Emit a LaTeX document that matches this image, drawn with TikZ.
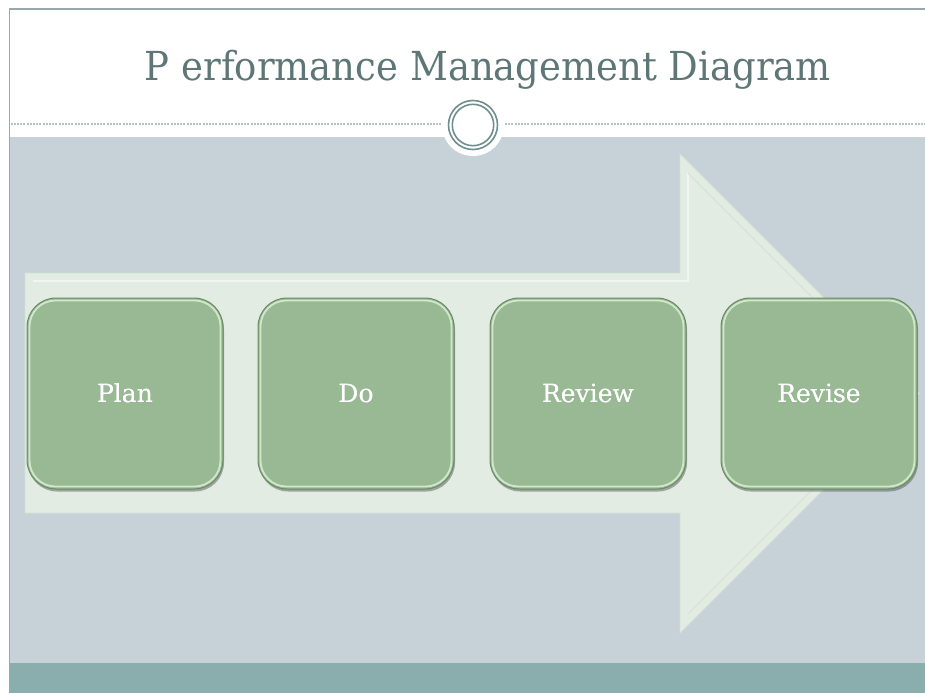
\documentclass[tikz,border=0pt]{standalone}
\usepackage{fontspec}
\setmainfont{DejaVu Serif}
\usetikzlibrary{shadows}
\definecolor{panel}{HTML}{C6D2D8}
\definecolor{band}{HTML}{8AADAD}
\definecolor{frame}{HTML}{98A9AD}
\definecolor{dotc}{HTML}{B2C1C5}
\definecolor{ring}{HTML}{6F8F8F}
\definecolor{titlec}{HTML}{5E7676}
\definecolor{arrowc}{HTML}{E2ECE3}
\definecolor{arrowedge}{HTML}{D3E2D5}
\definecolor{boxfill}{HTML}{98B994}
\definecolor{boxedge}{HTML}{6B8A68}
\definecolor{boxhi}{HTML}{CFE8CA}
\tikzset{
  stepbox/.style={draw=boxedge, line width=1pt, fill=boxfill, rounded corners=29pt,
    minimum width=196pt, minimum height=191pt, inner sep=0pt,
    text=white, font=\fontsize{25}{28}\selectfont,
    drop shadow={shadow xshift=1pt, shadow yshift=-2.5pt, opacity=0.45, fill=black!70}},
  hiline/.style={draw=boxhi, line width=1.8pt, rounded corners=26pt},
  dotline/.style={draw=dotc, line width=2pt, dash pattern=on 2pt off 1.2pt},
}
\begin{document}
\begin{tikzpicture}[x=1pt,y=-1pt]
\useasboundingbox (0,0) rectangle (925,693);
\fill[white] (0,0) rectangle (925,693);
% panel and band
\fill[panel] (10,137) rectangle (925,663);
\fill[band] (10,663) rectangle (925,693);
% frame lines
\draw[frame, line width=1.3pt] (9.5,693) -- (9.5,9) -- (925,9);
% dotted divider
\draw[dotline] (10.5,124) -- (442,124);
\draw[dotline] (505,124) -- (925,124);
% emblem
\fill[white] (473,125) circle[radius=31];
\coordinate (emb) at (473,125);
\draw[ring, line width=1.6pt] (emb) circle[radius=24.5];
\draw[ring, line width=1.6pt] (emb) circle[radius=20.7];
% title
\node[anchor=base, text=titlec, font=\fontsize{37}{42}\selectfont, inner sep=0pt] (title) at (488,81) {\scalebox{1}[1.08]{P erformance Management Diagram}};
% big arrow
\fill[arrowc, draw=arrowedge, line width=0.8pt] (25,273) -- (680,273) -- (680,154) -- (919.5,393.5) -- (680,633) -- (680,513) -- (25,513) -- cycle;
\draw[white, opacity=0.5, line width=1.5pt] (33,281) -- (688,281) -- (688,173);
\draw[arrowedge, line width=1pt] (688,173) -- (900,385);
\draw[arrowedge, line width=1pt] (688,614) -- (900,402);
% steps
\foreach \n/\x/\t in {plan/125/Plan, do/356/Do, review/588/Review, revise/819/Revise}{
  \node[stepbox] (\n) at (\x,393.5) {\t};
  \draw[hiline] ([shift={(3pt,-3pt)}]\n.north west) rectangle ([shift={(-3pt,3pt)}]\n.south east);
  \node[text=white, font=\fontsize{25}{28}\selectfont, inner sep=0pt] at (\n) {\t};
}
\end{tikzpicture}
\end{document}
